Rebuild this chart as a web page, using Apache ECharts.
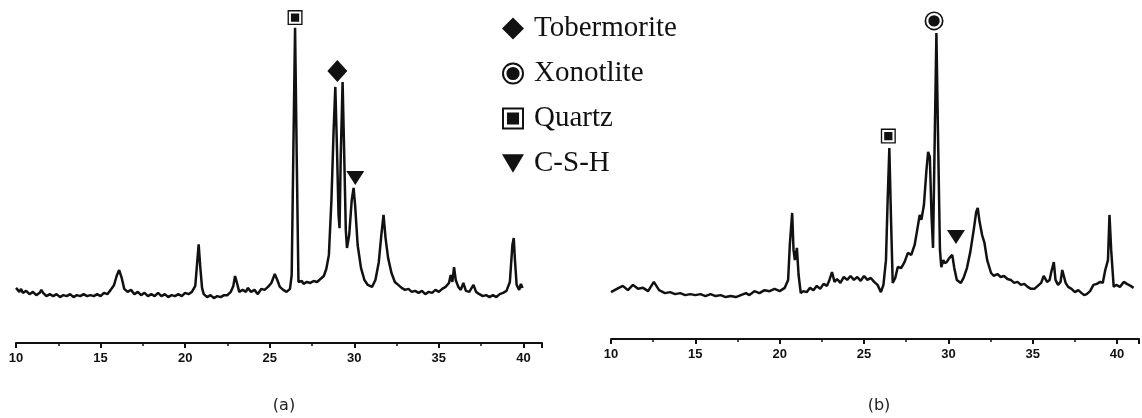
<!DOCTYPE html>
<html>
<head>
<meta charset="utf-8">
<script src="https://cdn.jsdelivr.net/npm/echarts@6/dist/echarts.min.js"></script>
<style>
  html, body { margin: 0; padding: 0; background: #fff; }
  #chart { width: 1142px; height: 418px; }
</style>
</head>
<body>
<div id="chart"></div>
<script>
// 2-theta (deg) and intensity
const degA = [10.0, 10.1, 10.2, 10.3, 10.4, 10.6, 10.8, 11.0, 11.2, 11.4, 11.5, 11.6, 11.8, 12.0, 12.2, 12.4, 12.6, 12.8, 13.0, 13.2, 13.4, 13.6, 13.8, 14.0, 14.2, 14.4, 14.6, 14.8, 15.0, 15.2, 15.4, 15.6, 15.8, 15.95, 16.1, 16.25, 16.4, 16.6, 16.8, 17.0, 17.2, 17.4, 17.6, 17.8, 18.0, 18.2, 18.4, 18.6, 18.8, 19.0, 19.2, 19.4, 19.6, 19.8, 20.0, 20.2, 20.4, 20.6, 20.7, 20.8, 20.9, 21.0, 21.1, 21.3, 21.5, 21.7, 21.9, 22.1, 22.3, 22.5, 22.7, 22.85, 22.95, 23.05, 23.2, 23.4, 23.6, 23.7, 23.9, 24.1, 24.3, 24.5, 24.7, 24.9, 25.1, 25.3, 25.45, 25.6, 25.8, 26.0, 26.2, 26.3, 26.4, 26.5, 26.6, 26.7, 26.8, 26.9, 27.0, 27.2, 27.4, 27.6, 27.8, 28.0, 28.2, 28.35, 28.5, 28.65, 28.78, 28.88, 28.98, 29.07, 29.13, 29.2, 29.31, 29.4, 29.5, 29.57, 29.7, 29.85, 29.96, 30.05, 30.2, 30.4, 30.6, 30.8, 31.05, 31.25, 31.45, 31.6, 31.73, 31.85, 32.0, 32.2, 32.4, 32.6, 32.8, 33.0, 33.2, 33.4, 33.6, 33.8, 34.0, 34.2, 34.4, 34.6, 34.8, 35.0, 35.2, 35.4, 35.6, 35.7, 35.8, 35.9, 36.0, 36.15, 36.3, 36.45, 36.6, 36.8, 37.05, 37.2, 37.4, 37.6, 37.8, 38.0, 38.2, 38.4, 38.6, 38.8, 39.0, 39.2, 39.35, 39.43, 39.5, 39.6, 39.75, 39.85, 39.95];
const intA = [167, 161, 155, 164, 152, 158, 148, 155, 145, 152, 161, 152, 142, 148, 142, 148, 139, 145, 142, 148, 139, 145, 142, 148, 142, 145, 142, 148, 142, 152, 148, 161, 176, 203, 221, 197, 164, 155, 161, 148, 155, 145, 152, 142, 148, 142, 152, 142, 148, 139, 145, 142, 148, 142, 152, 148, 155, 173, 236, 299, 227, 167, 148, 139, 145, 136, 142, 139, 145, 145, 155, 173, 203, 185, 155, 161, 155, 167, 155, 161, 148, 164, 161, 170, 182, 209, 191, 170, 161, 155, 164, 206, 585, 955, 555, 185, 179, 188, 179, 185, 182, 188, 185, 194, 203, 225, 267, 433, 645, 776, 585, 388, 348, 564, 791, 585, 342, 288, 327, 433, 470, 418, 297, 227, 191, 176, 170, 191, 245, 327, 388, 318, 258, 212, 185, 176, 167, 161, 164, 155, 158, 152, 158, 148, 155, 152, 161, 155, 164, 170, 182, 206, 185, 230, 191, 170, 161, 182, 158, 155, 176, 155, 148, 142, 145, 139, 145, 139, 148, 152, 158, 185, 297, 318, 252, 176, 161, 179, 167];

const degB = [10.0, 10.35, 10.7, 11.0, 11.3, 11.6, 11.9, 12.2, 12.54, 12.85, 13.2, 13.5, 13.8, 14.1, 14.4, 14.7, 15.0, 15.3, 15.6, 15.9, 16.2, 16.5, 16.8, 17.1, 17.4, 17.7, 18.0, 18.2, 18.5, 18.8, 19.1, 19.4, 19.7, 20.0, 20.3, 20.5, 20.6, 20.74, 20.82, 20.9, 21.02, 21.12, 21.25, 21.4, 21.6, 21.8, 22.0, 22.2, 22.4, 22.6, 22.8, 22.95, 23.1, 23.25, 23.4, 23.6, 23.8, 24.0, 24.2, 24.4, 24.6, 24.8, 25.0, 25.2, 25.4, 25.6, 25.8, 26.0, 26.15, 26.3, 26.4, 26.5, 26.6, 26.7, 26.85, 27.0, 27.2, 27.4, 27.6, 27.8, 28.0, 28.15, 28.3, 28.4, 28.55, 28.7, 28.8, 28.9, 29.0, 29.09, 29.18, 29.29, 29.4, 29.5, 29.58, 29.7, 29.78, 29.9, 30.05, 30.23, 30.35, 30.5, 30.74, 30.9, 31.1, 31.3, 31.5, 31.65, 31.74, 31.85, 32.0, 32.14, 32.3, 32.53, 32.7, 32.9, 33.1, 33.3, 33.5, 33.7, 33.9, 34.1, 34.3, 34.5, 34.7, 34.9, 35.1, 35.3, 35.5, 35.65, 35.75, 35.85, 36.0, 36.1, 36.25, 36.35, 36.5, 36.65, 36.75, 36.95, 37.1, 37.3, 37.5, 37.7, 37.9, 38.05, 38.2, 38.4, 38.6, 38.8, 39.0, 39.15, 39.3, 39.46, 39.55, 39.65, 39.8, 39.95, 40.17, 40.4, 40.58, 40.8, 40.98];
const intB = [142, 152, 161, 148, 164, 152, 155, 145, 173, 148, 139, 142, 136, 139, 133, 136, 133, 136, 130, 136, 130, 133, 127, 130, 127, 133, 139, 133, 145, 139, 148, 145, 152, 145, 155, 179, 285, 382, 270, 239, 276, 194, 139, 145, 142, 155, 148, 161, 152, 167, 161, 179, 203, 173, 182, 170, 188, 179, 191, 179, 188, 176, 191, 179, 185, 173, 164, 142, 164, 239, 421, 579, 361, 170, 185, 218, 215, 233, 261, 255, 285, 330, 376, 361, 406, 512, 567, 552, 376, 276, 573, 927, 573, 270, 218, 239, 230, 233, 245, 255, 215, 179, 170, 185, 215, 264, 330, 385, 397, 355, 315, 291, 239, 200, 191, 197, 188, 191, 182, 179, 170, 173, 164, 167, 158, 152, 152, 161, 170, 191, 194, 173, 179, 203, 233, 179, 164, 173, 209, 170, 158, 152, 142, 148, 139, 133, 136, 145, 164, 167, 173, 170, 209, 239, 376, 270, 158, 164, 158, 173, 167, 161, 155, 148];

// phase markers [deg, intensity]
const tobermoriteA = [[29.0, 824]];
const quartzA = [[26.5, 986]];
const cshA = [[30.06, 500]];
const xonotliteB = [[29.15, 964]];
const quartzB = [[26.44, 615]];
const cshB = [[30.45, 309]];

const phaseNames = ["Tobermorite", "Xonotlite", "Quartz", "C-S-H"];
const panelLabels = ["(a)", "(b)"];

const ringIcon = "path://M0,-10A10,10 0 1,1 0,10A10,10 0 1,1 0,-10ZM0,-8.2A8.2,8.2 0 1,0 0,8.2A8.2,8.2 0 1,0 0,-8.2ZM0,-6A6,6 0 1,1 0,6A6,6 0 1,1 0,-6Z";
const boxIcon = "path://M0,0L20,0L20,20L0,20ZM1.8,1.8L1.8,18.2L18.2,18.2L18.2,1.8ZM4.5,4.5L15.5,4.5L15.5,15.5L4.5,15.5Z";
const triIcon = "path://M0,0L20,0L10,17Z";

const mychart = echarts.init(document.getElementById("chart"));

const xAxisStyle = {
  type: "value",
  min: 10,
  interval: 5,
  axisLine: { show: true, onZero: false, lineStyle: { color: "#111", width: 2 } },
  axisTick: { show: true, length: 5, lineStyle: { color: "#111", width: 2 } },
  minorTick: { show: true, splitNumber: 2, length: 3, lineStyle: { color: "#111", width: 1.5 } },
  splitLine: { show: false },
  axisLabel: {
    margin: 9,
    color: "#111",
    fontFamily: "Liberation Sans",
    fontWeight: "bold",
    fontSize: 13,
    formatter: (v) => (v % 5 === 0 ? String(v) : ""),
  },
};

const lineStyle = { color: "#111", width: 2.5 };
const markerStyle = { color: "#111", opacity: 1 };
const labelText = { fontFamily: "DejaVu Sans", fontWeight: "normal", fontSize: 16, color: "#222" };

let option = {
  animation: false,
  backgroundColor: "#fff",
  title: [
    { text: panelLabels[0], left: 279, top: 393, textAlign: "center", textStyle: labelText },
    { text: panelLabels[1], left: 874, top: 393, textAlign: "center", textStyle: labelText },
  ],
  legend: {
    orient: "vertical",
    left: 497,
    top: 9,
    itemWidth: 22,
    itemHeight: 22,
    itemGap: 16,
    selectedMode: false,
    textStyle: { fontFamily: "Liberation Serif", fontSize: 29, color: "#111", padding: [0, 0, 0, 5] },
    data: [
      { name: phaseNames[0], icon: "diamond" },
      { name: phaseNames[1], icon: ringIcon },
      { name: phaseNames[2], icon: boxIcon },
      { name: phaseNames[3], icon: triIcon },
    ],
  },
  grid: [
    { left: 16, width: 526, top: 13, height: 330 },
    { left: 611, width: 531, top: 9, height: 330 },
  ],
  xAxis: [
    Object.assign({}, xAxisStyle, { gridIndex: 0, max: 41.1 }),
    Object.assign({}, xAxisStyle, { gridIndex: 1, max: 41.3 }),
  ],
  yAxis: [
    { type: "value", gridIndex: 0, min: 0, max: 1000, show: false },
    { type: "value", gridIndex: 1, min: 0, max: 1000, show: false },
  ],
  series: [
    {
      type: "line",
      xAxisIndex: 0,
      yAxisIndex: 0,
      showSymbol: false,
      data: degA.map((d, i) => [d, intA[i]]),
      lineStyle: lineStyle,
    },
    {
      type: "line",
      xAxisIndex: 1,
      yAxisIndex: 1,
      showSymbol: false,
      data: degB.map((d, i) => [d, intB[i]]),
      lineStyle: lineStyle,
    },
    { name: phaseNames[0], type: "scatter", xAxisIndex: 0, yAxisIndex: 0, symbol: "diamond", symbolSize: [20, 22], data: tobermoriteA, itemStyle: markerStyle },
    { name: phaseNames[2], type: "scatter", xAxisIndex: 0, yAxisIndex: 0, symbol: boxIcon, symbolSize: 15, data: quartzA, itemStyle: markerStyle },
    { name: phaseNames[3], type: "scatter", xAxisIndex: 0, yAxisIndex: 0, symbol: triIcon, symbolSize: [18, 14], data: cshA, itemStyle: markerStyle },
    { name: phaseNames[1], type: "scatter", xAxisIndex: 1, yAxisIndex: 1, symbol: ringIcon, symbolSize: 19, data: xonotliteB, itemStyle: markerStyle },
    { name: phaseNames[2], type: "scatter", xAxisIndex: 1, yAxisIndex: 1, symbol: boxIcon, symbolSize: 15, data: quartzB, itemStyle: markerStyle },
    { name: phaseNames[3], type: "scatter", xAxisIndex: 1, yAxisIndex: 1, symbol: triIcon, symbolSize: [18, 14], data: cshB, itemStyle: markerStyle },
  ],
};
mychart.setOption(option);
</script>
</body>
</html>
